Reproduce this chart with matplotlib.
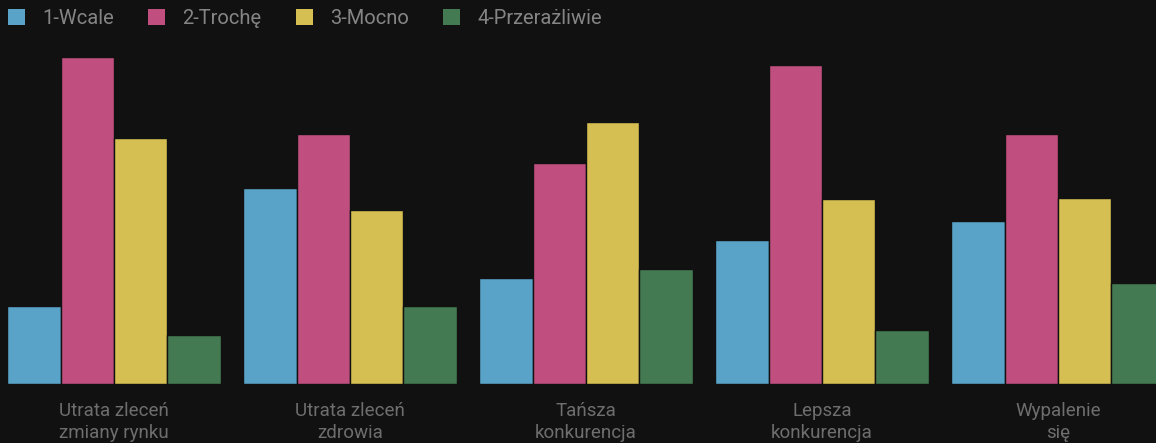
import matplotlib
matplotlib.use("Agg")
import matplotlib.pyplot as plt
import numpy as np

categories = ["Utrata zleceń\nzmiany rynku", "Utrata zleceń\nzdrowia", "Tańsza\nkonkurencja",
              "Lepsza\nkonkurencja", "Wypalenie\nsię"]
series_names = ["1-Wcale", "2-Trochę", "3-Mocno", "4-Przerażliwie"]
wcale = [78, 195, 106, 144, 163]
troche = [326, 249, 220, 318, 249]
mocno = [245, 173, 261, 184, 185]
przerazliwie = [49, 78, 115, 54, 101]
series_values = [wcale, troche, mocno, przerazliwie]
colors = ["#59a3c9", "#c04e7e", "#d5bf52", "#447a52"]

BG = "#111111"
plt.rcParams['font.family'] = ['Roboto', 'DejaVu Sans']

fig = plt.figure(figsize=(11.56, 4.43), dpi=100, facecolor=BG)
ax = fig.add_axes([0, 59/443, 1, 334/443])
ax.set_facecolor(BG)

x = np.arange(len(categories))
w = 0.2258
handles = []
for i, (name, vals, c) in enumerate(zip(series_names, series_values, colors)):
    b = ax.bar(x + (i - 1.5) * w, vals, width=w, color=c, edgecolor=BG,
               linewidth=1.0, label=name)
    handles.append(b)

ax.set_xlim(-0.483, 4.415)
ax.set_ylim(0, 333)
for s in ax.spines.values():
    s.set_visible(False)
ax.set_yticks([])
ax.set_xticks(x)
ax.set_xticklabels(categories, fontsize=13.5, color="#6e6e6e", linespacing=1.25)
ax.tick_params(axis='x', length=0, pad=13)

leg = fig.legend(handles=handles, labels=series_names, loc='upper left',
                 bbox_to_anchor=(8/1156, 1 - 9/443), ncol=4, frameon=False,
                 fontsize=14.5, handlelength=0.85, handleheight=0.85,
                 handletextpad=0.85, columnspacing=1.7, borderaxespad=0,
                 borderpad=0, labelcolor="#858585")
for p in leg.get_patches():
    p.set_edgecolor('none')

fig.savefig("out.png", dpi=100, facecolor=BG)
